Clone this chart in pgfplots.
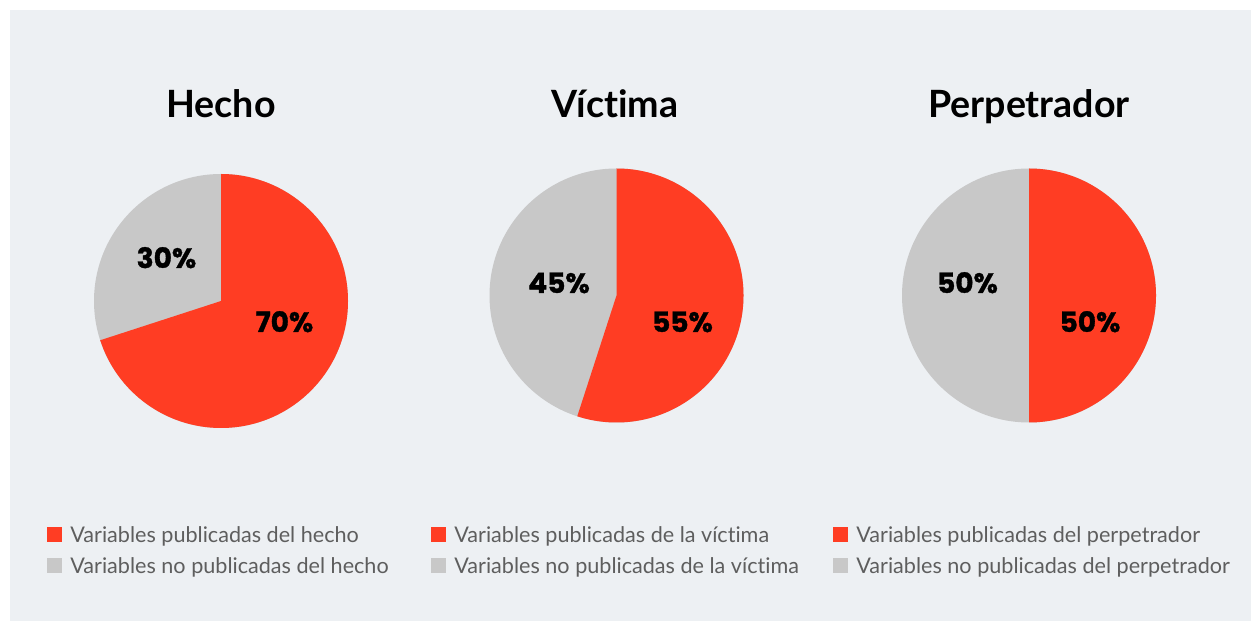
\documentclass[border=0pt]{standalone}
\usepackage{pgfplots}
\usepackage{pgfplotstable}
\usepackage{fontspec}
\pgfplotsset{compat=1.18}
\setmainfont{Lato}[Ligatures={NoCommon}]
\newfontfamily\pctfont{Poppins}[BoldFeatures={FakeBold=1.2}]

\definecolor{bg}{HTML}{EDF0F3}
\definecolor{pubred}{HTML}{FF3D23}
\definecolor{nopub}{HTML}{C8C8C8}
\definecolor{legtext}{HTML}{5E5E5E}

% share of published / unpublished variables, per group
\pgfplotstableread{
group pub nopub
1 70 30
2 55 45
3 50 50
}\pies

\pgfplotstablegetelem{0}{pub}\of\pies \edef\pubA{\pgfplotsretval}
\pgfplotstablegetelem{1}{pub}\of\pies \edef\pubB{\pgfplotsretval}
\pgfplotstablegetelem{2}{pub}\of\pies \edef\pubC{\pgfplotsretval}
\pgfplotstablegetelem{0}{nopub}\of\pies \edef\nopA{\pgfplotsretval}
\pgfplotstablegetelem{1}{nopub}\of\pies \edef\nopB{\pgfplotsretval}
\pgfplotstablegetelem{2}{nopub}\of\pies \edef\nopC{\pgfplotsretval}

% pie: center x, center y, published share
\newcommand{\pie}[3]{%
  \fill[nopub] (axis cs:#1,#2) circle[radius=63.5pt];
  \fill[pubred] (axis cs:#1,#2) -- ++(90:63.5pt)
    arc[start angle=90, end angle={90-3.6*#3}, radius=63.5pt] -- cycle;
}
\newcommand{\pct}[3]{%
  \node[anchor=base, font=\pctfont\bfseries\fontsize{14}{16}\selectfont]
    at (axis cs:#1,#2) {#3\%};
}
\newcommand{\legitem}[4]{%
  \fill[#3] (axis cs:#1,#2) rectangle (axis cs:#1+15,#2+15);
  \node[anchor=base west, inner sep=0pt, text=legtext,
    font=\fontsize{10.8}{12}\selectfont] at (axis cs:#1+23,#2) {#4};
}

\begin{document}
\begin{tikzpicture}
\begin{axis}[
    hide axis,
    scale only axis,
    width=625.5pt, height=310.5pt,
    xmin=0, xmax=1251, ymin=0, ymax=621,
    clip=false,
]
\fill[white] (axis cs:0,0) rectangle (axis cs:1251,621);
\fill[bg] (axis cs:10,0) rectangle (axis cs:1251,611);

\pie{221}{320}{\pubA}
\pie{616.5}{325.5}{\pubB}
\pie{1029}{325.5}{\pubC}

\pct{166.5}{353}{\nopA}
\pct{284.5}{289}{\pubA}
\pct{559}{328}{\nopB}
\pct{682.5}{289}{\pubB}
\pct{967.5}{328}{\nopC}
\pct{1090}{289}{\pubC}

\begin{scope}[every node/.style={anchor=base, font=\bfseries\fontsize{18.8}{20}\selectfont}]
\node at (axis cs:221,503) {Hecho};
\node at (axis cs:615,503) {Víctima};
\node at (axis cs:1029,503) {Perpetrador};
\end{scope}

\legitem{47}{79}{pubred}{Variables publicadas del hecho}
\legitem{47}{48}{nopub}{Variables no publicadas del hecho}
\legitem{431}{79}{pubred}{Variables publicadas de la víctima}
\legitem{431}{48}{nopub}{Variables no publicadas de la víctima}
\legitem{833}{79}{pubred}{Variables publicadas del perpetrador}
\legitem{833}{48}{nopub}{Variables no publicadas del perpetrador}
\end{axis}
\end{tikzpicture}
\end{document}
